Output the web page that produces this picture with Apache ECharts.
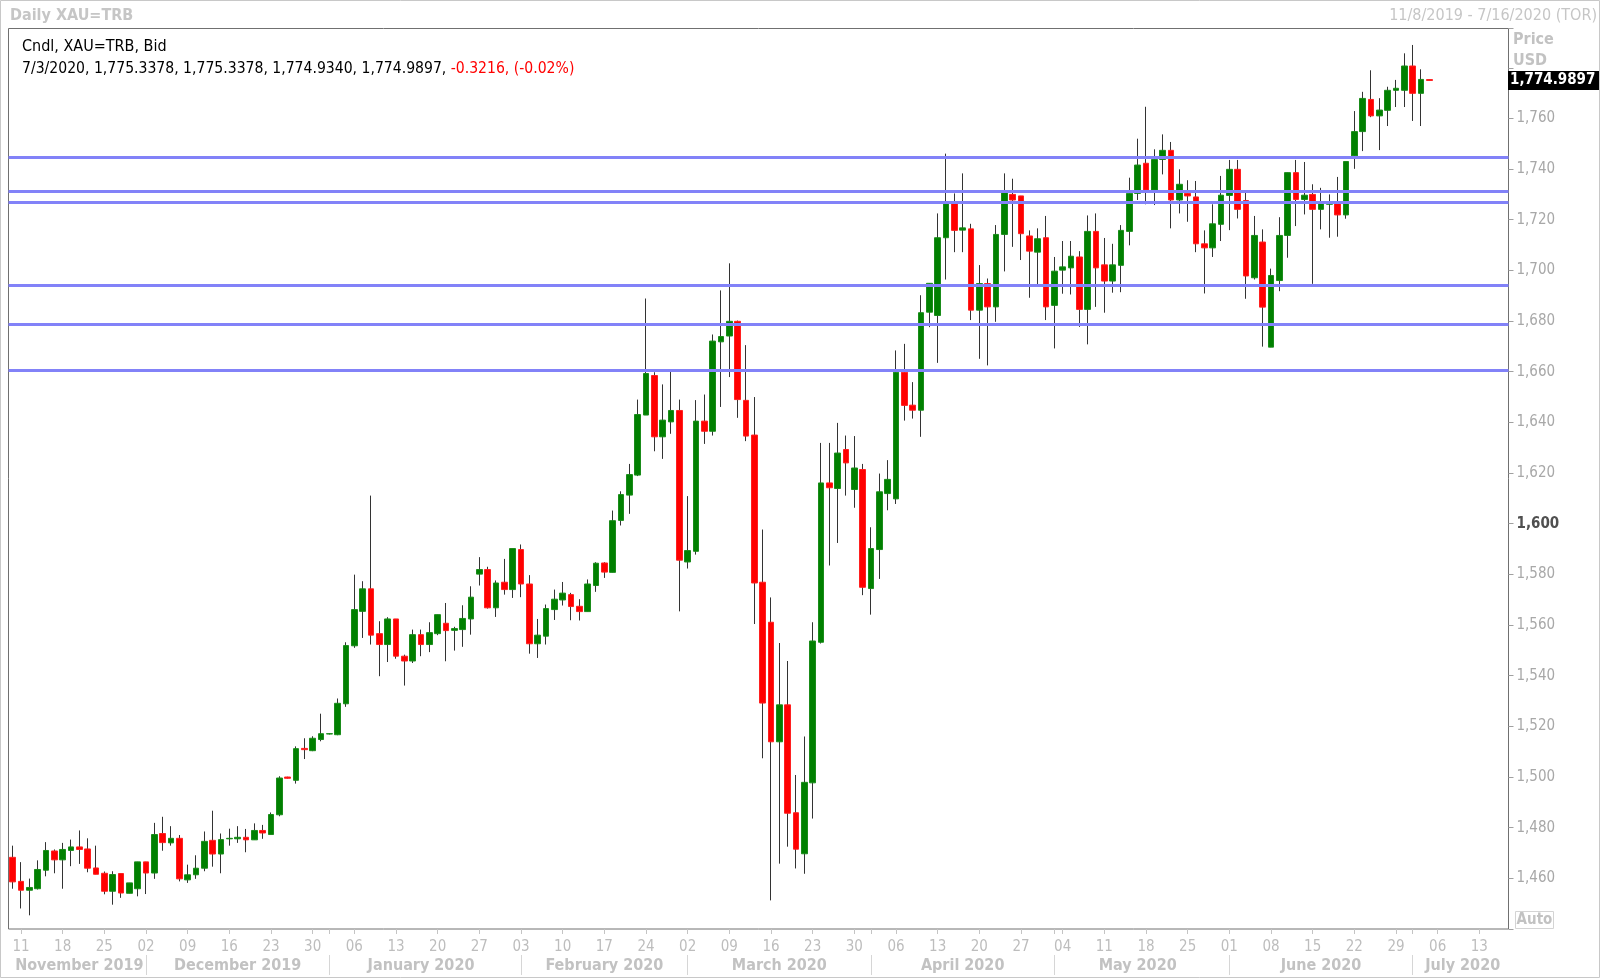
<!DOCTYPE html>
<html>
<head>
<meta charset="utf-8">
<script src="https://cdn.jsdelivr.net/npm/echarts@6/dist/echarts.min.js"></script>
<style>
html,body{margin:0;padding:0;background:#ffffff;}
#c{width:1600px;height:978px;}
</style>
</head>
<body>
<div id="c"></div>
<script>
// ---------------- DATA ----------------
const dates = [
'2019-11-08','2019-11-11','2019-11-12','2019-11-13','2019-11-14','2019-11-15','2019-11-18','2019-11-19','2019-11-20','2019-11-21','2019-11-22','2019-11-25','2019-11-26','2019-11-27','2019-11-28','2019-11-29',
'2019-12-02','2019-12-03','2019-12-04','2019-12-05','2019-12-06','2019-12-09','2019-12-10','2019-12-11','2019-12-12','2019-12-13','2019-12-16','2019-12-17','2019-12-18','2019-12-19','2019-12-20','2019-12-23','2019-12-24','2019-12-25','2019-12-26','2019-12-27','2019-12-30','2019-12-31',
'2020-01-01','2020-01-02','2020-01-03','2020-01-06','2020-01-07','2020-01-08','2020-01-09','2020-01-10','2020-01-13','2020-01-14','2020-01-15','2020-01-16','2020-01-17','2020-01-20','2020-01-21','2020-01-22','2020-01-23','2020-01-24','2020-01-27','2020-01-28','2020-01-29','2020-01-30','2020-01-31',
'2020-02-03','2020-02-04','2020-02-05','2020-02-06','2020-02-07','2020-02-10','2020-02-11','2020-02-12','2020-02-13','2020-02-14','2020-02-17','2020-02-18','2020-02-19','2020-02-20','2020-02-21','2020-02-24','2020-02-25','2020-02-26','2020-02-27','2020-02-28',
'2020-03-02','2020-03-03','2020-03-04','2020-03-05','2020-03-06','2020-03-09','2020-03-10','2020-03-11','2020-03-12','2020-03-13','2020-03-16','2020-03-17','2020-03-18','2020-03-19','2020-03-20','2020-03-23','2020-03-24','2020-03-25','2020-03-26','2020-03-27','2020-03-30','2020-03-31',
'2020-04-01','2020-04-02','2020-04-03','2020-04-06','2020-04-07','2020-04-08','2020-04-09','2020-04-10','2020-04-13','2020-04-14','2020-04-15','2020-04-16','2020-04-17','2020-04-20','2020-04-21','2020-04-22','2020-04-23','2020-04-24','2020-04-27','2020-04-28','2020-04-29','2020-04-30',
'2020-05-01','2020-05-04','2020-05-05','2020-05-06','2020-05-07','2020-05-08','2020-05-11','2020-05-12','2020-05-13','2020-05-14','2020-05-15','2020-05-18','2020-05-19','2020-05-20','2020-05-21','2020-05-22','2020-05-25','2020-05-26','2020-05-27','2020-05-28','2020-05-29',
'2020-06-01','2020-06-02','2020-06-03','2020-06-04','2020-06-05','2020-06-08','2020-06-09','2020-06-10','2020-06-11','2020-06-12','2020-06-15','2020-06-16','2020-06-17','2020-06-18','2020-06-19','2020-06-22','2020-06-23','2020-06-24','2020-06-25','2020-06-26','2020-06-29','2020-06-30',
'2020-07-01','2020-07-02','2020-07-03','2020-07-06','2020-07-07','2020-07-08','2020-07-09','2020-07-10','2020-07-13','2020-07-14','2020-07-15','2020-07-16'
];

const openP = [
1468.3,1458.8,1455.3,1455.9,1463.2,1470.8,1467.3,1471.0,1472.4,1471.6,1464.1,1462.0,1454.9,1461.9,1454.1,1455.9,
1466.5,1462.1,1477.7,1474.0,1475.8,1459.4,1461.4,1464.0,1475.0,1469.6,1475.6,1475.6,1476.2,1475.2,1478.9,1477.3,1485.1,1500.0,1498.7,1511.3,1510.4,1514.8,
1517.0,1516.7,1528.9,1551.8,1565.4,1574.3,1556.6,1552.3,1562.4,1547.7,1545.8,1556.2,1552.3,1556.6,1560.7,1557.9,1558.2,1562.4,1580.1,1581.9,1566.8,1576.9,1574.0,
1589.8,1576.2,1552.6,1555.6,1566.1,1569.9,1572.0,1567.4,1565.3,1575.6,1584.5,1580.8,1601.3,1611.3,1619.2,1642.9,1658.5,1634.3,1640.2,1644.7,
1584.9,1589.1,1640.5,1636.5,1671.8,1674.1,1679.9,1648.7,1635.0,1576.9,1561.1,1513.9,1528.5,1485.9,1469.7,1497.7,1553.2,1616.1,1613.9,1629.3,1613.5,1621.4,
1574.4,1589.8,1611.9,1609.8,1659.8,1646.8,1644.8,1683.5,1682.2,1712.9,1726.5,1715.9,1716.4,1684.3,1694.8,1685.6,1714.2,1730.0,1729.4,1713.6,1707.2,1712.9,
1686.2,1700.1,1701.0,1705.3,1684.6,1715.4,1702.2,1695.8,1702.0,1715.4,1730.4,1742.3,1731.7,1743.8,1747.4,1727.8,1730.4,1729.0,1710.5,1708.9,1718.2,
1729.6,1739.9,1727.6,1697.1,1711.2,1669.7,1696.0,1713.8,1738.6,1728.0,1730.0,1724.1,1726.1,1726.5,1721.9,1745.2,1754.8,1767.5,1761.0,1763.2,1771.1,1771.1,
1780.7,1769.9,1775.3378
];

const closeP = [
1458.6,1455.3,1456.4,1463.5,1471.0,1467.3,1471.4,1472.4,1471.4,1464.0,1461.6,1454.9,1461.5,1454.2,1458.2,1466.5,
1462.1,1477.3,1474.1,1475.8,1459.8,1461.4,1464.0,1474.6,1469.6,1475.3,1475.8,1476.2,1475.2,1478.9,1477.9,1485.2,1499.6,1499.5,1511.2,1510.8,1515.3,1517.1,
1517.1,1529.1,1551.9,1566.1,1574.3,1556.0,1552.3,1562.4,1547.7,1545.8,1556.2,1552.3,1557.0,1564.1,1557.8,1558.6,1562.6,1571.0,1581.9,1566.8,1576.6,1574.0,1590.2,
1576.2,1552.6,1556.0,1566.5,1570.2,1572.6,1567.3,1565.3,1576.2,1584.4,1580.9,1601.2,1611.5,1619.4,1643.1,1659.3,1634.3,1640.9,1644.7,1585.6,
1589.4,1640.5,1636.5,1672.1,1673.9,1679.9,1649.0,1634.6,1576.6,1529.2,1513.9,1528.5,1485.7,1471.5,1497.9,1553.7,1616.1,1614.2,1627.9,1624.0,1622.0,1574.9,
1590.2,1612.6,1617.5,1659.8,1646.7,1644.8,1683.3,1694.9,1712.9,1726.3,1715.8,1716.8,1684.3,1694.8,1685.6,1714.2,1730.7,1727.8,1714.5,1707.6,1712.5,1685.6,
1699.7,1701.4,1705.6,1684.6,1715.4,1701.0,1695.8,1702.2,1715.8,1730.4,1741.6,1731.7,1743.8,1747.4,1727.8,1734.0,1729.4,1710.5,1708.9,1718.4,1729.7,
1739.9,1724.1,1697.8,1713.8,1685.5,1698.0,1713.8,1738.6,1728.0,1729.7,1724.1,1726.5,1726.5,1721.9,1743.0,1754.8,1767.9,1761.0,1763.3,1771.1,1771.9,1780.7,
1769.9,1775.4,1774.9897
];

const lowP = [
1455.9,1448.1,1445.4,1455.6,1460.8,1462.0,1455.9,1464.8,1465.7,1462.4,1461.6,1453.7,1449.6,1452.3,1454.1,1452.9,
1453.8,1459.8,1470.9,1472.9,1458.8,1458.2,1459.8,1462.8,1464.6,1462.0,1472.9,1474.0,1470.3,1475.2,1475.6,1477.3,1484.5,1499.4,1497.4,1507.1,1510.2,1514.1,
1516.8,1516.5,1527.7,1551.0,1554.9,1552.3,1539.8,1545.4,1546.7,1536.1,1545.0,1547.7,1549.3,1556.0,1545.7,1549.9,1551.4,1556.2,1575.6,1566.5,1563.2,1572.0,1570.7,
1571.0,1548.7,1547.0,1552.3,1562.0,1567.7,1561.9,1561.8,1565.3,1573.1,1578.6,1580.8,1599.3,1603.9,1618.8,1642.9,1628.6,1625.6,1635.5,1565.4,
1582.3,1587.8,1631.5,1634.8,1646.1,1657.9,1641.8,1632.6,1560.4,1507.4,1451.3,1465.8,1472.5,1463.9,1461.8,1483.6,1552.7,1583.5,1592.4,1611.1,1606.3,1571.8,
1564.1,1578.2,1605.3,1607.8,1640.7,1641.5,1634.3,1677.6,1663.5,1696.4,1707.2,1707.2,1680.4,1665.1,1662.5,1679.7,1699.6,1709.3,1704.1,1689.2,1694.5,1680.4,
1669.2,1690.8,1690.5,1677.7,1670.8,1685.6,1683.3,1691.2,1691.4,1709.9,1727.8,1726.1,1725.8,1737.9,1716.6,1722.5,1719.2,1707.2,1690.9,1705.3,1711.6,
1715.9,1720.5,1688.8,1696.4,1669.9,1669.7,1691.8,1705.0,1717.5,1722.1,1694.7,1716.2,1712.9,1713.3,1720.4,1740.1,1747.1,1760.5,1747.5,1757.0,1764.5,1764.5,
1759.0,1757.0,1774.934
];

const highP = [
1472.9,1466.4,1459.9,1467.1,1474.3,1471.4,1474.0,1475.3,1478.9,1475.8,1472.9,1462.7,1462.8,1461.9,1458.2,1466.5,
1466.5,1481.9,1484.3,1480.6,1477.1,1465.4,1469.1,1478.5,1486.7,1477.7,1479.6,1480.6,1479.5,1481.7,1481.1,1486.0,1500.3,1500.1,1512.1,1515.3,1516.1,1525.0,
1517.3,1531.0,1553.2,1579.9,1577.3,1611.1,1561.5,1563.1,1562.4,1548.3,1558.2,1558.2,1561.1,1564.1,1568.7,1559.3,1567.8,1575.3,1586.8,1583.0,1577.6,1586.1,1590.2,
1591.8,1579.7,1562.4,1568.1,1574.0,1577.0,1572.7,1570.2,1578.0,1584.8,1584.8,1605.2,1612.8,1623.6,1649.0,1688.9,1659.8,1655.0,1660.0,1649.0,
1610.9,1648.8,1651.0,1674.7,1692.1,1702.8,1680.2,1670.5,1650.0,1597.7,1570.9,1552.9,1545.8,1500.8,1516.0,1561.1,1631.9,1631.9,1639.8,1634.8,1634.6,1623.6,
1598.6,1619.8,1625.1,1668.4,1671.0,1655.9,1690.2,1694.9,1722.5,1746.1,1730.4,1738.3,1718.4,1702.1,1696.8,1717.9,1738.3,1736.2,1729.4,1715.8,1716.6,1721.5,
1705.3,1711.6,1711.6,1707.6,1721.7,1722.5,1712.8,1710.5,1717.9,1736.6,1752.0,1764.6,1747.8,1753.7,1750.7,1739.9,1735.6,1735.3,1715.8,1726.1,1737.3,
1743.6,1743.6,1730.7,1721.5,1716.2,1700.7,1721.0,1738.6,1743.6,1742.8,1734.0,1732.6,1730.0,1736.9,1743.0,1762.9,1770.5,1779.0,1768.0,1772.5,1775.2,1785.7,
1789.0,1779.4,1775.3378
];

// horizontal support / resistance levels drawn on the chart
const levels = [1744.5, 1731.3, 1727.1, 1694.1, 1678.9, 1660.6];

const monthNames = ['January','February','March','April','May','June','July','August','September','October','November','December'];

const titleText = 'Daily XAU=TRB';
const rangeText = '11/8/2019 - 7/16/2020 (TOR)';
const infoLine1 = 'Cndl, XAU=TRB, Bid';
const infoLine2Black = '7/3/2020, 1,775.3378, 1,775.3378, 1,774.9340, 1,774.9897, ';
const infoLine2Red = '-0.3216, (-0.02%)';

// ---------------- BUILD ----------------
const FONT = '"DejaVu Sans Condensed", "DejaVu Sans", sans-serif';
const wickData = openP.map((o, i) => [o, closeP[i], lowP[i], highP[i]]);
const bodyData = openP.map((o, i) => [o, closeP[i], Math.min(o, closeP[i]), Math.max(o, closeP[i])]);

const isMonday = idx => new Date(dates[idx] + 'T00:00:00Z').getUTCDay() === 1;
const monthKey = idx => dates[idx].slice(0, 7);
const monthStart = new Set();
const monthMid = new Set();
(function () {
  let first = 0;
  for (let i = 1; i <= dates.length; i++) {
    if (i === dates.length || monthKey(i) !== monthKey(i - 1)) {
      monthMid.add(Math.round((first + i - 1) / 2 + 0.4));
      if (i < dates.length) monthStart.add(i);
      first = i;
    }
  }
})();

const chart = echarts.init(document.getElementById('c'), null, {renderer: 'canvas'});

const option = {
  animation: false,
  backgroundColor: '#ffffff',
  grid: {left: 8.5, right: 91.5, top: 28.5, bottom: 49, show: true, borderColor: '#707070', borderWidth: 1, backgroundColor: 'transparent', outerBoundsMode: 'none'},
  xAxis: [
    {
      type: 'category', data: dates, boundaryGap: true,
      axisLine: {show: false},
      axisTick: {show: true, alignWithLabel: true, length: 5, interval: idx => isMonday(idx) || monthStart.has(idx), lineStyle: {color: '#c4c4c4'}},
      axisLabel: {show: true, interval: idx => isMonday(idx), formatter: v => v.slice(8, 10), color: '#bdbdbd', fontSize: 15, fontFamily: FONT, margin: 11},
      splitLine: {show: false}
    },
    {
      type: 'category', data: dates, boundaryGap: true, position: 'bottom', offset: 26,
      axisLine: {show: false},
      axisTick: {show: true, alignWithLabel: true, length: 20, interval: idx => monthStart.has(idx), lineStyle: {color: '#d6d6d6'}},
      axisLabel: {show: true, interval: idx => monthMid.has(idx), formatter: v => monthNames[parseInt(v.slice(5, 7), 10) - 1] + ' ' + v.slice(0, 4), color: '#c2c2c2', fontSize: 16, fontWeight: 'bold', fontFamily: FONT, margin: 3},
      splitLine: {show: false}
    }
  ],
  yAxis: {
    type: 'value', position: 'right', min: 1440, max: 1795.5, interval: 20, scale: true,
    axisLine: {show: false},
    axisTick: {show: true, length: 5, lineStyle: {color: '#a0a0a0'}},
    splitLine: {show: false},
    axisLabel: {
      margin: 8, color: '#a8a8a8', fontSize: 15, fontFamily: FONT,
      formatter: v => {
        if (v < 1460 || v > 1760) return '';
        const s = v.toLocaleString('en-US');
        return v === 1600 ? '{b|' + s + '}' : s;
      },
      rich: {b: {fontWeight: 'bold', color: '#505050', fontSize: 15, fontFamily: FONT}}
    }
  },
  series: [
    {
      type: 'candlestick', name: 'wick', data: wickData, barWidth: 1, silent: true, z: 2,
      itemStyle: {color: '#333333', color0: '#333333', borderColor: '#333333', borderColor0: '#333333', borderWidth: 1}
    },
    {
      type: 'candlestick', name: 'body', data: bodyData, barWidth: 6, silent: true, z: 3,
      itemStyle: {color: '#008000', color0: '#ff0000', borderColor: '#1a8c1a', borderColor0: '#ff2020', borderWidth: 1},
      markLine: {
        silent: true, symbol: ['none', 'none'], animation: false,
        label: {show: false},
        lineStyle: {color: '#8282f8', width: 3, type: 'solid', opacity: 1},
        emphasis: {disabled: true},
        data: levels.map(v => ({yAxis: v}))
      }
    }
  ],
  graphic: []
};
chart.setOption(option);

const lastClose = closeP[closeP.length - 1];
const yLast = chart.convertToPixel({yAxisIndex: 0}, lastClose);
const fmtLast = lastClose.toLocaleString('en-US', {minimumFractionDigits: 4, maximumFractionDigits: 4});

chart.setOption({
  graphic: [
    {type: 'rect', silent: true, shape: {x: 0.5, y: 0.5, width: 1599, height: 977}, style: {fill: 'none', stroke: '#c8c8c8', lineWidth: 1}, z: 100},
    {type: 'text', silent: true, style: {text: titleText, x: 10, y: 15.5, verticalAlign: 'middle', font: 'bold 16px ' + FONT, fill: '#c6c6c6'}},
    {type: 'text', silent: true, style: {text: rangeText, x: 1597, y: 15.5, align: 'right', verticalAlign: 'middle', font: '16px ' + FONT, fill: '#c6c6c6'}},
    {type: 'text', silent: true, style: {text: infoLine1, x: 22, y: 47, verticalAlign: 'middle', font: '16px ' + FONT, fill: '#000000'}},
    {type: 'text', silent: true, style: {
      text: '{k|' + infoLine2Black + '}{r|' + infoLine2Red + '}', x: 22, y: 68.5, verticalAlign: 'middle', font: '15.6px ' + FONT,
      rich: {k: {fill: '#000000', font: '15.6px ' + FONT}, r: {fill: '#ff0000', font: '15.6px ' + FONT}}
    }},
    {type: 'text', silent: true, style: {text: 'Price', x: 1513, y: 39.5, verticalAlign: 'middle', font: 'bold 16px ' + FONT, fill: '#c2c2c2'}},
    {type: 'text', silent: true, style: {text: 'USD', x: 1513, y: 60.5, verticalAlign: 'middle', font: 'bold 16px ' + FONT, fill: '#c2c2c2'}},
    {type: 'rect', silent: true, shape: {x: 1508, y: yLast - 9.5, width: 92, height: 19}, style: {fill: '#000000'}, z: 50},
    {type: 'text', silent: true, z: 51, style: {text: fmtLast, x: 1510, y: yLast, verticalAlign: 'middle', font: 'bold 15px ' + FONT, fill: '#ffffff'}},
    {type: 'rect', silent: true, shape: {x: 1515.5, y: 911.5, width: 38, height: 17}, style: {fill: '#ffffff', stroke: '#d4d4d4', lineWidth: 1}, z: 50},
    {type: 'text', silent: true, z: 51, style: {text: 'Auto', x: 1534.5, y: 920, align: 'center', verticalAlign: 'middle', font: 'bold 15px ' + FONT, fill: '#c2c2c2'}}
  ]
});
</script>
</body>
</html>
